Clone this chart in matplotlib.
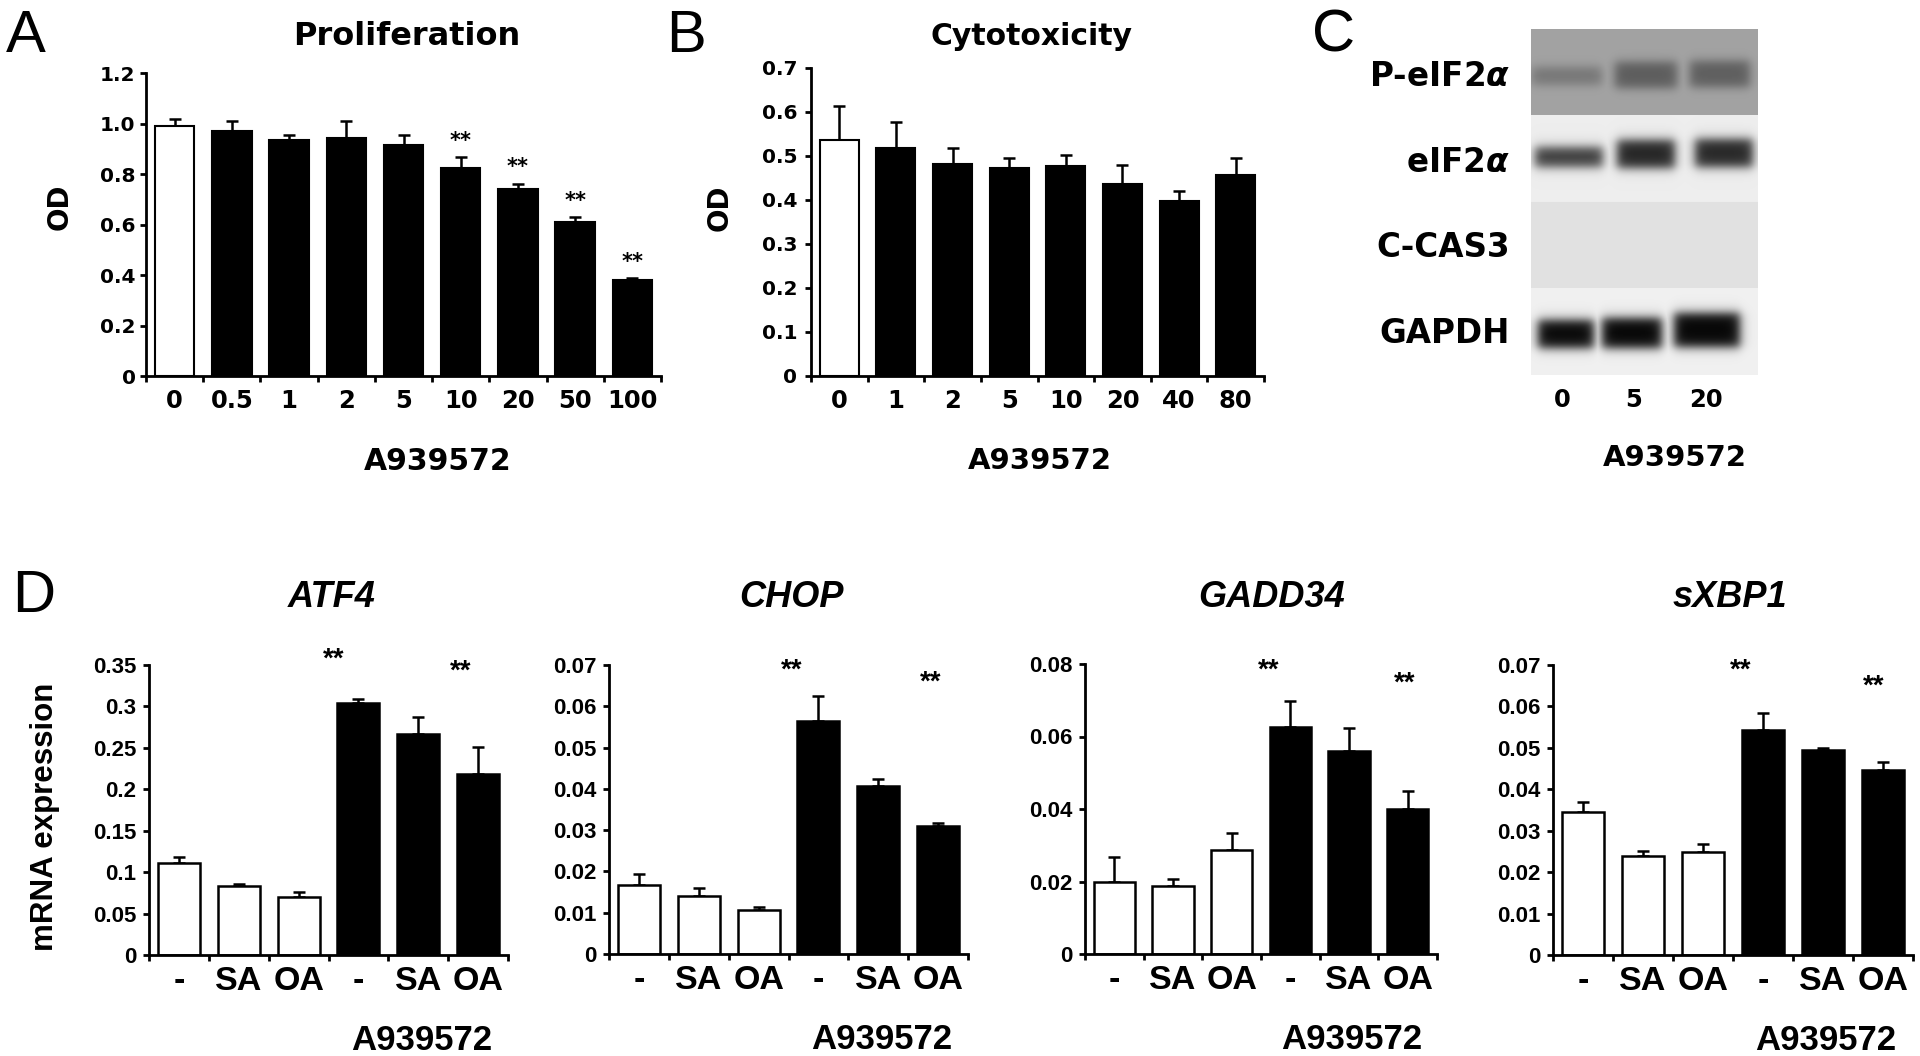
import numpy as np
import matplotlib
matplotlib.use('Agg')
import matplotlib.pyplot as plt
from matplotlib.ticker import FixedLocator

# ---------------- data ----------------
prolif_doses = ['0', '0.5', '1', '2', '5', '10', '20', '50', '100']
prolif_od = [0.990, 0.970, 0.936, 0.944, 0.915, 0.825, 0.742, 0.610, 0.380]
prolif_err = [0.028, 0.043, 0.020, 0.069, 0.040, 0.042, 0.020, 0.020, 0.008]
prolif_sig = [False, False, False, False, False, True, True, True, True]
prolif_treated = [False, True, True, True, True, True, True, True, True]

cyto_doses = ['0', '1', '2', '5', '10', '20', '40', '80']
cyto_od = [0.536, 0.517, 0.482, 0.472, 0.477, 0.436, 0.396, 0.457]
cyto_err = [0.077, 0.060, 0.035, 0.023, 0.024, 0.043, 0.024, 0.038]
cyto_treated = [False, True, True, True, True, True, True, True]

groups = ['-', 'SA', 'OA', '-', 'SA', 'OA']
group_treated = [False, False, False, True, True, True]
atf4 = [0.111, 0.083, 0.070, 0.304, 0.267, 0.218]
atf4_err = [0.0073, 0.0032, 0.0060, 0.0048, 0.0200, 0.0326]
chop = [0.0166, 0.0140, 0.0106, 0.0565, 0.0407, 0.0309]
chop_err = [0.0028, 0.0019, 0.0007, 0.0060, 0.0016, 0.0009]
gadd34 = [0.0198, 0.0187, 0.0288, 0.0627, 0.0559, 0.0400]
gadd34_err = [0.0069, 0.0020, 0.0046, 0.0072, 0.0064, 0.0051]
sxbp1 = [0.0344, 0.0239, 0.0249, 0.0543, 0.0496, 0.0447]
sxbp1_err = [0.0026, 0.0013, 0.0019, 0.0040, 0.0003, 0.0020]

blot_rows = ['P-eIF2$\\alpha$', 'eIF2$\\alpha$', 'C-CAS3', 'GAPDH']
blot_lanes = ['0', '5', '20']
blot_band_level = [
    [0.27, 0.43, 0.42],   # P-eIF2a
    [0.73, 0.84, 0.83],   # eIF2a
    [0.00, 0.00, 0.00],   # C-CAS3
    [0.96, 0.97, 0.97],   # GAPDH
]

# ---------------- layout helpers ----------------
W, H = 1920, 1056
fig = plt.figure(figsize=(W / 100, H / 100), dpi=100)
fig.patch.set_facecolor('white')
ARIAL = ['Liberation Sans', 'DejaVu Sans']
WIDE = ['DejaVu Sans']
plt.rcParams['font.family'] = ARIAL
plt.rcParams['font.weight'] = 'bold'
plt.rcParams['mathtext.fontset'] = 'dejavusans'


def add_ax(l, t, r, b):
    return fig.add_axes([l / W, 1 - b / H, (r - l) / W, (b - t) / H])


def ftext(x, y, s, **kw):
    return fig.text(x / W, 1 - y / H, s, **kw)


def bar_panel(ax, vals, errs, treated, ylim, yticks, ytlabels, xlabels,
              ytick_fs, xtick_fs, xtick_pad, ytick_pad, family=ARIAL,
              edge_lw=1.6, width=0.68):
    n = len(vals)
    x = np.arange(n)
    colors = ['black' if t else 'white' for t in treated]
    ax.errorbar(x, vals, yerr=[np.zeros(n), errs], fmt='none', ecolor='black',
                elinewidth=1.8, capsize=4.5, capthick=1.8, zorder=1)
    ax.bar(x, vals, width=width, color=colors, edgecolor='black',
           linewidth=edge_lw, zorder=2)
    ax.set_xlim(-0.5, n - 0.5)
    ax.set_ylim(*ylim)
    for s in ['top', 'right']:
        ax.spines[s].set_visible(False)
    for s in ['left', 'bottom']:
        ax.spines[s].set_linewidth(2.0)
        ax.spines[s].set_zorder(3)
    ax.set_yticks(yticks)
    ax.set_yticklabels(ytlabels, fontsize=ytick_fs, fontweight='bold',
                       family=family)
    ax.tick_params(axis='y', direction='out', length=4, width=2, pad=ytick_pad)
    ax.set_xticks(x)
    ax.set_xticklabels(xlabels, fontsize=xtick_fs, fontweight='bold',
                       family=family)
    ax.tick_params(axis='x', which='major', length=0, pad=xtick_pad)
    ax.xaxis.set_minor_locator(FixedLocator(np.arange(n + 1) - 0.5))
    ax.tick_params(axis='x', which='minor', direction='out', length=4, width=2)
    ax.patch.set_alpha(0)
    return x


# ---------------- Panel A ----------------
axA = add_ax(146, 73.3, 661, 376.2)
xA = bar_panel(axA, prolif_od, prolif_err, prolif_treated, (0, 1.2),
               [0, 0.2, 0.4, 0.6, 0.8, 1.0, 1.2],
               ['0', '0.2', '0.4', '0.6', '0.8', '1.0', '1.2'],
               prolif_doses, 14.5, 17.5, 9.5, 3.5, family=WIDE, edge_lw=1.5,
               width=0.69)
for xi, v, e, s in zip(xA, prolif_od, prolif_err, prolif_sig):
    if s:
        axA.text(xi, v + e + 0.065, '**', ha='center', va='center',
                 fontsize=15, fontweight='bold', family=WIDE, clip_on=False)
ftext(60, 207, 'OD', rotation=90, ha='center', va='center', fontsize=20,
      fontweight='bold', family=WIDE)
axA.annotate('A939572', xy=(4.59, 0), xycoords=('data', 'axes fraction'),
             xytext=(0, -67.5), textcoords='offset points', ha='center',
             va='baseline', fontsize=21.5, fontweight='bold', family=WIDE)
ftext(407, 45, 'Proliferation', ha='center', va='baseline', fontsize=23,
      fontweight='bold', family=WIDE)
ftext(6, 52, 'A', ha='left', va='baseline', fontsize=43, fontweight='normal')

# ---------------- Panel B ----------------
axB = add_ax(811, 67.7, 1264, 375.7)
xB = bar_panel(axB, cyto_od, cyto_err, cyto_treated, (0, 0.7),
               [0, 0.1, 0.2, 0.3, 0.4, 0.5, 0.6, 0.7],
               ['0', '0.1', '0.2', '0.3', '0.4', '0.5', '0.6', '0.7'],
               cyto_doses, 14.5, 17.5, 9.5, 6, family=WIDE, edge_lw=1.5,
               width=0.69)
ftext(720, 208, 'OD', rotation=90, ha='center', va='center', fontsize=20,
      fontweight='bold', family=WIDE)
axB.annotate('A939572', xy=(3.55, 0), xycoords=('data', 'axes fraction'),
             xytext=(0, -67.5), textcoords='offset points', ha='center',
             va='baseline', fontsize=21, fontweight='bold', family=WIDE)
ftext(1031, 45, 'Cytotoxicity', ha='center', va='baseline', fontsize=21.5,
      fontweight='bold', family=WIDE)
ftext(666, 52, 'B', ha='left', va='baseline', fontsize=43, fontweight='normal')

# ---------------- Panel C (blot) ----------------
bx0, by0, bx1, by1 = 1531, 29, 1758, 375
axC = add_ax(bx0, by0, bx1, by1)
nx, ny = bx1 - bx0, by1 - by0
xx = np.arange(nx) + 0.5 + bx0
yy = np.arange(ny) + 0.5 + by0
row_edges = [29, 115, 202, 288, 375]
row_bg = [0.64, 0.93, 0.88, 0.94]
band_cy = [[76, 75, 74], [157, 154, 153], [245, 245, 245], [334, 333, 330]]
band_hh = [[9, 13, 13], [10, 14, 14], [10, 10, 10], [14, 15, 17]]
lane_cx = [[1567, 1646, 1720], [1569, 1646, 1724], [1568, 1643, 1716],
           [1566, 1632, 1707]]
lane_hw = [[35, 31, 30], [34, 29, 29], [30, 30, 30], [28, 30, 33]]
img = np.ones((ny, nx))


def soft(d, s):
    return 1.0 / (1.0 + np.exp(-d / s))


for r in range(len(blot_rows)):
    m = (yy >= row_edges[r]) & (yy < row_edges[r + 1])
    rows = np.full((m.sum(), nx), row_bg[r])
    dark = np.zeros_like(rows)
    for li in range(len(blot_lanes)):
        fy = soft(band_hh[r][li] - np.abs(yy[m] - band_cy[r][li]), 3.0)[:, None]
        fx = soft(lane_hw[r][li] - np.abs(xx - lane_cx[r][li]), 3.0)[None, :]
        dark = np.maximum(dark, blot_band_level[r][li] * fx * fy)
    img[m] = rows * (1 - dark)
axC.imshow(img, cmap='gray', vmin=0, vmax=1, extent=(bx0, bx1, by1, by0),
           aspect='auto', interpolation='bilinear')
axC.set_xlim(bx0, bx1)
axC.set_ylim(by1, by0)
axC.axis('off')
label_base = [86, 172, 257, 343]
for lab, yb in zip(blot_rows, label_base):
    ftext(1510, yb, lab, ha='right', va='baseline', fontsize=23.5,
          fontweight='bold', family=WIDE)
for lab, xc in zip(blot_lanes, [1562, 1634, 1706]):
    ftext(xc, 407, lab, ha='center', va='baseline', fontsize=17.5,
          fontweight='bold', family=WIDE)
ftext(1675, 466, 'A939572', ha='center', va='baseline', fontsize=21,
      fontweight='bold', family=WIDE)
ftext(1312, 52, 'C', ha='left', va='baseline', fontsize=43, fontweight='normal')

# ---------------- Panel D ----------------
d_specs = [
    dict(name='ATF4', vals=atf4, errs=atf4_err, box=(149, 665, 508, 955),
         ylim=(0, 0.35), ticks=[0, 0.05, 0.1, 0.15, 0.2, 0.25, 0.3, 0.35],
         labels=['0', '0.05', '0.1', '0.15', '0.2', '0.25', '0.3', '0.35'],
         title_x=332, stars=[(2.58, 0.362), (4.71, 0.348)]),
    dict(name='CHOP', vals=chop, errs=chop_err, box=(609, 665, 968, 954),
         ylim=(0, 0.07), ticks=[0, 0.01, 0.02, 0.03, 0.04, 0.05, 0.06, 0.07],
         labels=['0', '0.01', '0.02', '0.03', '0.04', '0.05', '0.06', '0.07'],
         title_x=791, stars=[(2.56, 0.0698), (4.88, 0.0668)]),
    dict(name='GADD34', vals=gadd34, errs=gadd34_err, box=(1085, 664, 1437, 954),
         ylim=(0, 0.08), ticks=[0, 0.02, 0.04, 0.06, 0.08],
         labels=['0', '0.02', '0.04', '0.06', '0.08'],
         title_x=1272, stars=[(2.63, 0.0794), (4.95, 0.0758)]),
    dict(name='sXBP1', vals=sxbp1, errs=sxbp1_err, box=(1553, 665, 1913, 955),
         ylim=(0, 0.07), ticks=[0, 0.01, 0.02, 0.03, 0.04, 0.05, 0.06, 0.07],
         labels=['0', '0.01', '0.02', '0.03', '0.04', '0.05', '0.06', '0.07'],
         title_x=1730, stars=[(2.63, 0.0697), (4.85, 0.0660)]),
]
for spec in d_specs:
    ax = add_ax(*spec['box'])
    bar_panel(ax, spec['vals'], spec['errs'], group_treated, spec['ylim'],
              spec['ticks'], spec['labels'], groups, 16, 24.5, 8, 5,
              edge_lw=1.8, width=0.70)
    for sx, sy in spec['stars']:
        ax.annotate('**', xy=(sx, sy), xytext=(0, -3.5),
                    textcoords='offset points', ha='center', va='center',
                    fontsize=20, fontweight='bold', annotation_clip=False)
    ax.annotate('A939572', xy=(4.05, 0), xycoords=('data', 'axes fraction'),
                xytext=(0, -68.4), textcoords='offset points', ha='center',
                va='baseline', fontsize=25, fontweight='bold')
    ftext(spec['title_x'], 607, spec['name'], ha='center', va='baseline',
          fontsize=26, fontweight='bold', style='italic')

ftext(45, 817, 'mRNA expression', rotation=90, ha='center', va='center',
      fontsize=22.5, fontweight='bold')
ftext(12, 612, 'D', ha='left', va='baseline', fontsize=43, fontweight='normal')

fig.savefig('out.png', dpi=100, facecolor='white')
